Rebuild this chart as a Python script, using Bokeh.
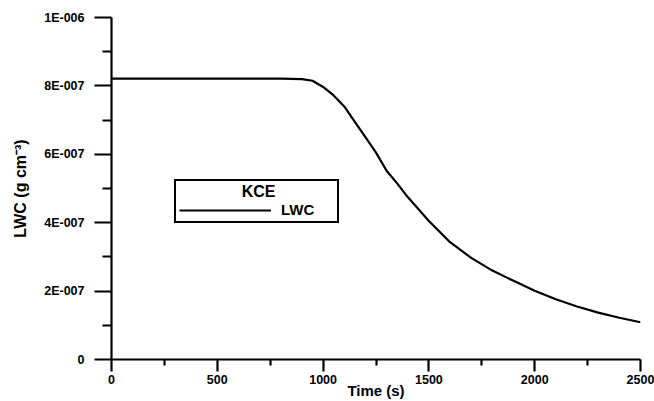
from bokeh.plotting import figure
from bokeh.models import FixedTicker, Legend, LegendItem, ColumnDataSource
from bokeh.core.properties import value
from bokeh.embed import file_html
from bokeh.resources import INLINE

# Data
time_s = [0, 800, 900, 950, 1000, 1050, 1100, 1150, 1200, 1250, 1300, 1350, 1400,
          1450, 1500, 1600, 1700, 1800, 1900, 2000, 2100, 2200, 2300, 2400, 2500]
lwc = [8.21e-7, 8.21e-7, 8.20e-7, 8.15e-7, 7.97e-7, 7.72e-7, 7.40e-7, 6.95e-7,
       6.50e-7, 6.05e-7, 5.52e-7, 5.15e-7, 4.75e-7, 4.40e-7, 4.05e-7, 3.43e-7,
       2.97e-7, 2.60e-7, 2.30e-7, 2.01e-7, 1.76e-7, 1.55e-7, 1.37e-7, 1.22e-7, 1.09e-7]

x_ticks = [0, 500, 1000, 1500, 2000, 2500]
x_minor = [250, 750, 1250, 1750, 2250]
y_ticks = [0, 2e-7, 4e-7, 6e-7, 8e-7, 1e-6]
y_minor = [1e-7, 3e-7, 5e-7, 7e-7, 9e-7]
y_tick_labels = ["0", "2E-007", "4E-007", "6E-007", "8E-007", "1E-006"]

x_title = "Time (s)"
y_title = "LWC (g cm\u207b\u00b3)"
legend_title = "KCE"
series_name = "LWC"

FONT = "Liberation Sans"

p = figure(width=654, height=401, output_backend="svg", toolbar_location=None,
           x_range=(0, 2500), y_range=(0, 1e-6),
           min_border_left=111, min_border_right=14, min_border_top=17, min_border_bottom=42)
p.outline_line_color = None
p.xgrid.visible = False
p.ygrid.visible = False
p.background_fill_color = "white"
p.border_fill_color = "white"

r = p.line(time_s, lwc, line_color="black", line_width=2.2)

for ax in (p.xaxis[0], p.yaxis[0]):
    ax.axis_line_color = "black"
    ax.major_tick_line_color = "black"
    ax.minor_tick_line_color = "black"
    ax.axis_line_width = 2.2
    ax.major_tick_line_width = 2.2
    ax.minor_tick_line_width = 2.2
    ax.major_tick_in = 0
    ax.minor_tick_in = 0
    ax.major_label_text_font = FONT
    ax.major_label_text_font_style = "bold"
    ax.major_label_text_font_size = "12.5px"
    ax.major_label_text_color = "black"
    ax.axis_label_text_font = FONT
    ax.axis_label_text_font_style = "bold"
    ax.axis_label_text_color = "black"

xa = p.xaxis[0]
xa.ticker = FixedTicker(ticks=x_ticks, minor_ticks=x_minor)
xa.major_tick_out = 12
xa.minor_tick_out = 6
xa.major_label_standoff = 3
xa.axis_label = x_title
xa.axis_label_text_font_size = "15px"
xa.axis_label_standoff = -5

ya = p.yaxis[0]
ya.ticker = FixedTicker(ticks=y_ticks, minor_ticks=y_minor)
ya.major_label_overrides = {t: l for t, l in zip(y_ticks, y_tick_labels)}
ya.major_tick_out = 17
ya.minor_tick_out = 9
ya.major_label_standoff = 10
ya.axis_label = y_title
ya.axis_label_text_font_size = "16px"
ya.axis_label_standoff = 12

legend = Legend(items=[LegendItem(label=series_name, renderers=[r])],
                location=(63, 136), title=legend_title)
legend.title_text_alpha = 0
legend.title_text_font_size = "15px"
legend.title_standoff = 0
legend.label_text_font = FONT
legend.label_text_font_style = "bold"
legend.label_text_font_size = "15px"
legend.label_text_color = "black"
legend.border_line_color = "black"
legend.border_line_alpha = 1
legend.border_line_width = 2
legend.glyph_width = 92
legend.glyph_height = 14
legend.label_standoff = 10
legend.label_width = 53
legend.padding = 3
legend.spacing = 0
legend.margin = 0
legend.background_fill_alpha = 0
p.add_layout(legend, "center")

# Centred legend title drawn as a text glyph inside the legend box
title_src = ColumnDataSource(dict(x=[695], y=[4.91e-7], t=[legend_title]))
tr = p.text(x="x", y="y", text="t", source=title_src,
            text_font=value(FONT), text_font_style="bold", text_font_size="16px",
            text_color="black", text_align="center", text_baseline="middle")
tr.level = "overlay"

open("out.html", "w").write(file_html(p, INLINE))
